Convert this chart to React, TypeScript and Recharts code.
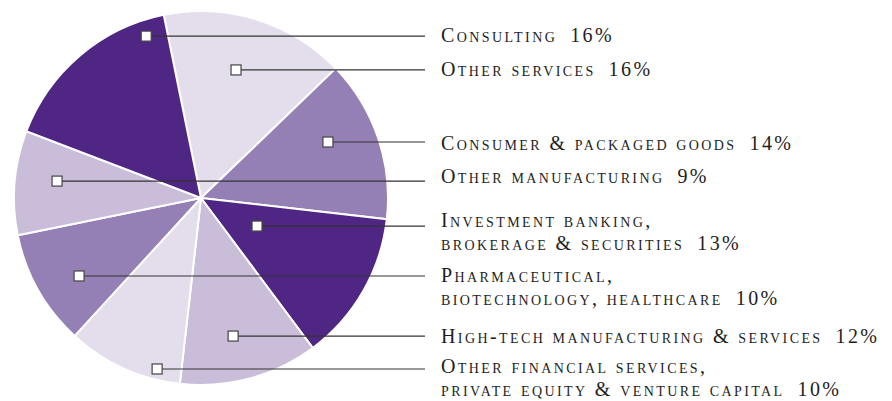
import { PieChart, Pie, Cell } from 'recharts';

// Sectors in clockwise order, starting just left of 12 o'clock
const sectors = [
  'Other services',
  'Consumer & packaged goods',
  'Investment banking, brokerage & securities',
  'High-tech manufacturing & services',
  'Other financial services, private equity & venture capital',
  'Pharmaceutical, biotechnology, healthcare',
  'Other manufacturing',
  'Consulting',
];
const shares = [16, 14, 13, 12, 10, 10, 9, 16];
const labelLines = [
  ['Other services'],
  ['Consumer & packaged goods'],
  ['Investment banking,', 'brokerage & securities'],
  ['High-tech manufacturing & services'],
  ['Other financial services,', 'private equity & venture capital'],
  ['Pharmaceutical,', 'biotechnology, healthcare'],
  ['Other manufacturing'],
  ['Consulting'],
];

const DARK = '#4f2683';
const MEDIUM = '#9580b6';
const LIGHT = '#c9bdda';
const PALE = '#e3ddec';
const sliceColors = [PALE, MEDIUM, DARK, LIGHT, PALE, MEDIUM, LIGHT, DARK];

// callout layout: marker angle (deg clockwise from top), marker radius (fraction of pie), first text baseline
const markerAngle = [15.3, 66.2, 116.6, 166.9, 194.4, 237.4, 276.7, 341.3];
const markerRadius = [0.71, 0.742, 0.335, 0.758, 0.944, 0.774, 0.775, 0.914];
const textBaseline = [76, 150, 227, 343, 373, 282, 183, 42];

const CX = 201;
const CY = 198;
const R = 187;
const TEXT_X = 441;
const LINE_END = 425;
const LINE_GAP = 23;

const chartData = sectors.map((name, i) => ({ name, value: shares[i] }));

const renderCallout = (props: any) => {
  const { index, value } = props;
  const cx = typeof props.cx === 'number' ? props.cx : CX;
  const cy = typeof props.cy === 'number' ? props.cy : CY;
  const r = (props.outerRadius ?? R) * markerRadius[index];
  const a = (markerAngle[index] * Math.PI) / 180;
  const mx = cx + r * Math.sin(a);
  const my = cy - r * Math.cos(a);
  const lines = labelLines[index];
  return (
    <g key={`callout-${index}`}>
      <line x1={mx} y1={my} x2={LINE_END} y2={my} stroke="#333" strokeWidth={1.2} />
      <rect x={mx - 5} y={my - 5} width={10} height={10} fill="#fff" stroke="#444" strokeWidth={1.2} />
      {lines.map((ln, j) => (
        <text
          key={j}
          x={TEXT_X}
          y={textBaseline[index] + j * LINE_GAP}
          fill="#1e1e1e"
          fontFamily="'Liberation Serif', serif"
          fontSize={20}
          letterSpacing={2.4}
          style={{ fontVariant: 'small-caps' }}
        >
          {ln}
          {j === lines.length - 1 ? <tspan dx={13}>{`${value}%`}</tspan> : null}
        </text>
      ))}
    </g>
  );
};

export default function App() {
  return (
    <div style={{ position: 'absolute', left: 0, top: 0, background: '#fff' }}>
      <PieChart width={892} height={401} margin={{ top: 0, right: 0, bottom: 0, left: 0 }}>
        <Pie
          data={chartData}
          dataKey="value"
          nameKey="name"
          cx={CX}
          cy={CY}
          outerRadius={R}
          startAngle={101.5}
          endAngle={-258.5}
          stroke="#fff"
          strokeWidth={2}
          labelLine={false}
          label={renderCallout}
          isAnimationActive={false}
        >
          {chartData.map((d, i) => (
            <Cell key={d.name} fill={sliceColors[i]} />
          ))}
        </Pie>
      </PieChart>
    </div>
  );
}
